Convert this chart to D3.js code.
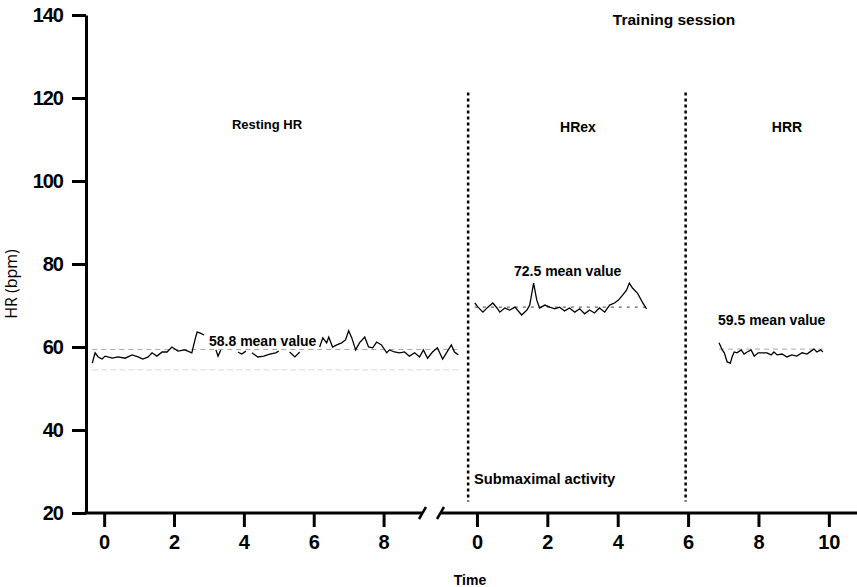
<!DOCTYPE html>
<html><head><meta charset="utf-8">
<script src="https://cdn.jsdelivr.net/npm/d3@7"></script>
<style>
body{margin:0;background:#fff;}
svg{display:block;font-family:"Liberation Sans",Arial,sans-serif;}
</style></head>
<body><svg id="c" width="857" height="587"></svg>
<script>
// ---- data ----
const yTicks = [20, 40, 60, 80, 100, 120, 140];
const restTicks = [0, 2, 4, 6, 8];
const sessTicks = [0, 2, 4, 6, 8, 10];

// Resting HR trace (time, bpm); null marks hidden/gaps
const restTime = [-0.34,-0.26,-0.17,-0.06,0.03,0.23,0.40,0.60,0.80,0.97,1.11,1.26,1.37,1.51,1.66,1.80,1.94,2.11,2.31,2.51,2.60,2.66,2.74,2.86,
  2.95,3.20,3.26,3.34,3.5,3.83,3.94,4.06,4.15,4.23,4.40,4.57,4.74,4.91,5.00,5.15,5.31,5.46,5.60,5.9,
  6.17,6.26,6.37,6.43,6.54,6.66,6.80,6.91,7.00,7.09,7.20,7.31,7.46,7.57,7.69,7.80,7.94,8.09,8.17,8.31,8.46,8.60,8.74,8.89,9.03,9.14,9.26,9.40,9.54,9.69,9.80,9.94,10.03,10.14];
const restHR = [56.1,58.6,57.6,57.1,57.8,57.3,57.6,57.3,58.1,57.6,57.1,57.6,58.6,57.8,58.8,58.8,60.0,59.0,59.3,58.6,61.7,63.6,63.4,62.9,
  null,59.3,57.8,59.3,null,58.8,58.3,59.0,null,58.6,57.6,57.8,58.3,58.6,59.0,null,58.8,57.6,58.8,null,
  60.0,62.2,61.0,62.4,60.0,60.5,61.0,61.7,63.9,62.2,59.3,61.0,62.4,60.0,59.8,61.2,60.5,58.6,59.3,58.8,58.6,58.8,57.8,58.6,57.6,59.3,57.3,58.8,59.8,57.1,58.6,60.5,58.8,58.1];
const restMean = 59.4, restMeanSpan = [-0.34, 10.14];
const restLow = 54.5;

// HRex trace (submaximal activity)
const exTime = [-0.06,0.03,0.17,0.31,0.45,0.57,0.65,0.79,0.93,1.08,1.27,1.42,1.50,1.61,1.70,1.78,1.93,2.07,2.21,2.35,2.49,2.63,2.78,2.92,3.06,3.20,3.34,3.48,3.63,3.77,3.91,4.02,4.14,4.25,4.33,4.42,4.56,4.70,4.82];
const exHR = [70.6,69.6,68.4,69.6,70.6,69.4,68.4,69.4,68.9,69.6,67.7,68.9,70.1,75.4,71.3,69.4,70.1,69.6,69.2,69.6,68.7,69.4,68.4,69.2,68.0,68.9,68.2,69.4,68.4,70.1,70.6,71.3,72.5,73.7,75.4,74.2,73.0,70.8,69.2];
const exMean = 69.6, exMeanSpan = [-0.06, 4.82];

// HRR trace (recovery)
const recTime = [6.88,6.97,7.03,7.11,7.20,7.25,7.31,7.39,7.51,7.59,7.68,7.79,7.88,7.99,8.10,8.24,8.36,8.44,8.53,8.67,8.81,8.95,9.09,9.24,9.38,9.49,9.58,9.66,9.77,9.83];
const recHR = [61.0,59.3,58.6,56.4,56.1,57.6,58.8,58.6,59.3,58.3,58.8,59.3,57.8,58.6,58.6,58.6,58.1,58.8,58.1,58.3,57.6,58.1,57.8,58.6,58.3,59.0,59.5,58.8,59.3,58.8];
const recMean = 59.5, recMeanSpan = [6.88, 9.83];

const phaseLines = [-0.25, 5.93];   // session time of dotted separators
const phaseTop = 121.3;

// ---- chart ----
const svg = d3.select("#c");
const y = d3.scaleLinear().domain([20, 140]).range([513, 15]);
const xL = d3.scaleLinear().domain([-0.52, 9.1]).range([86, 422]);
const xR = d3.scaleLinear().domain([-1.05, 10.8]).range([440, 857]);

const AX = 3;
// y axis
const gy = svg.append("g").attr("transform", `translate(${xL(-0.52)},0)`)
  .call(d3.axisLeft(y).tickValues(yTicks).tickSize(14).tickSizeOuter(0).tickPadding(9));
gy.select(".domain").attr("stroke-width", AX).attr("stroke", "#000");
gy.selectAll(".tick line").attr("stroke-width", AX);
gy.selectAll(".tick text").attr("font-size", 20).attr("font-weight", "bold").attr("letter-spacing", -1).attr("fill", "#000");

// x axis left (resting)
const gxl = svg.append("g").attr("transform", `translate(0,${y(20)})`)
  .call(d3.axisBottom(xL).tickValues(restTicks).tickSize(14).tickSizeOuter(0).tickPadding(8));
gxl.select(".domain").remove();
// x axis right (session)
const gxr = svg.append("g").attr("transform", `translate(0,${y(20)})`)
  .call(d3.axisBottom(xR).tickValues(sessTicks).tickSize(14).tickSizeOuter(0).tickPadding(8));
gxr.select(".domain").remove();
[gxl, gxr].forEach(g => {
  g.selectAll(".tick line").attr("stroke-width", AX);
  g.selectAll(".tick text").attr("font-size", 20).attr("font-weight", "bold").attr("fill", "#000");
});
svg.append("line").attr("x1", xL(-0.52) - 1.5).attr("x2", xL(9.1)).attr("y1", y(20)).attr("y2", y(20))
  .attr("stroke", "#000").attr("stroke-width", AX);
svg.append("line").attr("x1", xR(-1.05)).attr("x2", xR(10.8)).attr("y1", y(20)).attr("y2", y(20))
  .attr("stroke", "#000").attr("stroke-width", AX);
// break marks
[xL(9.1), xR(-1.05)].forEach(bx => {
  svg.append("line").attr("x1", bx - 3).attr("x2", bx + 4).attr("y1", y(20) + 6).attr("y2", y(20) - 6)
    .attr("stroke", "#000").attr("stroke-width", 2.5);
});

// phase separators
phaseLines.forEach(t => {
  svg.append("line").attr("x1", xR(t)).attr("x2", xR(t)).attr("y1", y(phaseTop)).attr("y2", y(22.8))
    .attr("stroke", "#000").attr("stroke-width", 2.5).attr("stroke-dasharray", "3,3");
});

// mean / reference lines
svg.append("line").attr("x1", xL(restMeanSpan[0])).attr("x2", xL(restMeanSpan[1]))
  .attr("y1", y(restLow)).attr("y2", y(restLow)).attr("stroke", "#e6e6e6").attr("stroke-width", 1.5).attr("stroke-dasharray", "6,3");
svg.append("line").attr("x1", xL(restMeanSpan[0])).attr("x2", xL(restMeanSpan[1]))
  .attr("y1", y(restMean)).attr("y2", y(restMean)).attr("stroke", "#aaa").attr("stroke-width", 1.2).attr("stroke-dasharray", "5,4");
svg.append("line").attr("x1", xR(exMeanSpan[0])).attr("x2", xR(exMeanSpan[1]))
  .attr("y1", y(exMean)).attr("y2", y(exMean)).attr("stroke", "#666").attr("stroke-width", 1.2).attr("stroke-dasharray", "3,5");
svg.append("line").attr("x1", xR(recMeanSpan[0])).attr("x2", xR(recMeanSpan[1]))
  .attr("y1", y(recMean)).attr("y2", y(recMean)).attr("stroke", "#bbb").attr("stroke-width", 1.2).attr("stroke-dasharray", "5,4");

// traces
const mk = (t, v) => t.map((d, i) => ({ t: d, v: v[i] }));
const lineL = d3.line().defined(d => d.v != null).x(d => xL(d.t)).y(d => y(d.v));
const lineR = d3.line().defined(d => d.v != null).x(d => xR(d.t)).y(d => y(d.v));
svg.append("path").datum(mk(restTime, restHR)).attr("d", lineL)
  .attr("fill", "none").attr("stroke", "#000").attr("stroke-width", 1.3);
svg.append("path").datum(mk(exTime, exHR)).attr("d", lineR)
  .attr("fill", "none").attr("stroke", "#000").attr("stroke-width", 1.3);
svg.append("path").datum(mk(recTime, recHR)).attr("d", lineR)
  .attr("fill", "none").attr("stroke", "#000").attr("stroke-width", 1.3);

// texts
const txt = (x, yy, s, size, anchor, weight) => svg.append("text").attr("x", x).attr("y", yy)
  .attr("font-size", size).attr("font-weight", weight || "bold").attr("text-anchor", anchor || "middle").attr("fill", "#000").text(s);
txt(674, 25, "Training session", 15.5);
txt(267, 129, "Resting HR", 13);
txt(578, 132, "HRex", 14);
txt(787, 132, "HRR", 14);
txt(209, 346, "58.8 mean value", 14, "start");
txt(514, 276, "72.5 mean value", 14, "start");
txt(718, 325, "59.5 mean value", 14, "start");
txt(474, 484, "Submaximal activity", 14.7, "start");
txt(470, 585, "Time", 14);
svg.append("text").attr("transform", "translate(17,284) rotate(-90)").attr("text-anchor", "middle")
  .attr("font-size", 16).attr("font-family", "'Open Sans',sans-serif").attr("fill", "#000").text("HR (bpm)");
</script></body></html>
